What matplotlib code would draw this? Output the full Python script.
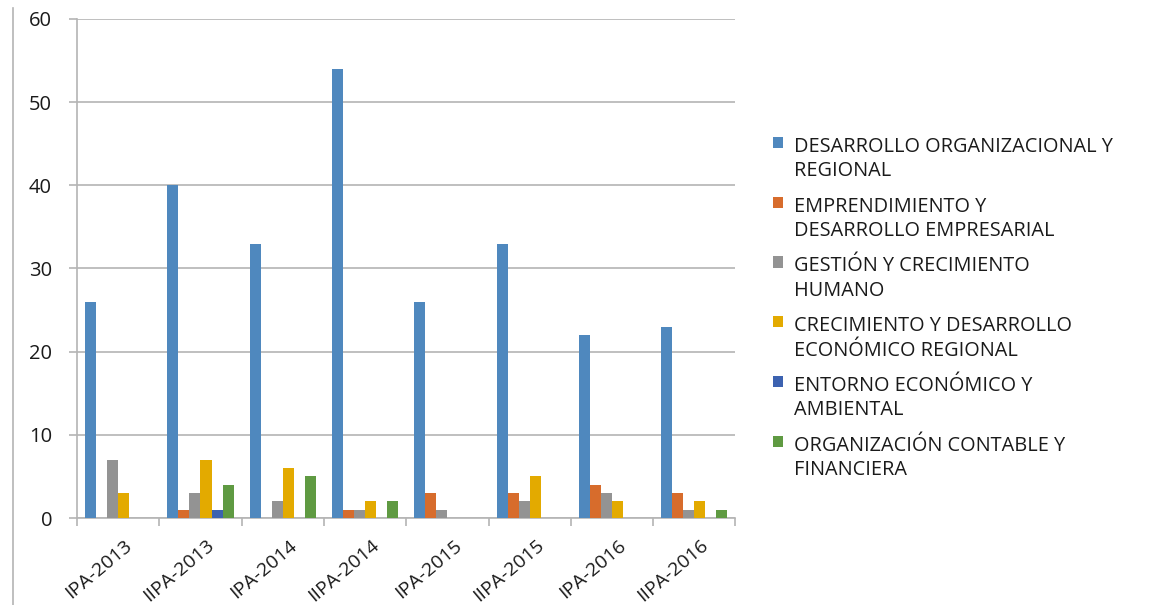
import matplotlib.pyplot as plt
import numpy as np
from matplotlib.lines import Line2D
from matplotlib.transforms import ScaledTranslation

plt.rcParams['font.family'] = ['Open Sans', 'DejaVu Sans']

# NOTE: data
periodos = ["IPA-2013", "IIPA-2013", "IPA-2014", "IIPA-2014",
            "IPA-2015", "IIPA-2015", "IPA-2016", "IIPA-2016"]
series = ["DESARROLLO ORGANIZACIONAL Y\nREGIONAL",
          "EMPRENDIMIENTO Y\nDESARROLLO EMPRESARIAL",
          "GESTIÓN Y CRECIMIENTO\nHUMANO",
          "CRECIMIENTO Y DESARROLLO\nECONÓMICO REGIONAL",
          "ENTORNO ECONÓMICO Y\nAMBIENTAL",
          "ORGANIZACIÓN CONTABLE Y\nFINANCIERA"]
desarrollo_org = [26, 40, 33, 54, 26, 33, 22, 23]
emprendimiento = [0, 1, 0, 1, 3, 3, 4, 3]
gestion = [7, 3, 2, 1, 1, 2, 3, 1]
crecimiento = [3, 7, 6, 2, 0, 5, 2, 2]
entorno = [0, 1, 0, 0, 0, 0, 0, 0]
organizacion = [0, 4, 5, 2, 0, 0, 0, 1]
valores = [desarrollo_org, emprendimiento, gestion, crecimiento, entorno, organizacion]
colores = ["#4f88be", "#d76c2c", "#939393", "#e3aa00", "#3c62b0", "#5f9a42"]

fig = plt.figure(figsize=(11.57, 6.05), dpi=100)
ax = fig.add_axes([0.0666, 0.1438, 0.569, 0.8248])

x = np.arange(len(periodos)) + 0.5
w = 0.134
for i, (vals, c, lab) in enumerate(zip(valores, colores, series)):
    ax.bar(x + (i - 2.5) * w, vals, width=w, color=c, label=lab, zorder=3)

ax.set_xlim(0, len(periodos))
ax.set_ylim(0, 60)
ax.set_yticks(range(0, 61, 10))
ax.yaxis.grid(True, color="#b4b4b4", linewidth=1.2, zorder=0)
ax.tick_params(axis='y', length=6, color="#b4b4b4", width=1.2, labelsize=14.5, pad=12,
               labelcolor="#1a1a1a")

ax.set_xticks(np.arange(len(periodos) + 1))
ax.set_xticklabels([])
ax.set_xticks(x, minor=True)
ax.set_xticklabels(periodos, minor=True, rotation=40, ha='right', va='top',
                   rotation_mode='anchor', fontsize=14, color="#1a1a1a")
ax.tick_params(axis='x', which='major', length=6, color="#b4b4b4", width=1.2)
ax.tick_params(axis='x', which='minor', length=0, pad=13)
desplaza = ScaledTranslation(6 / 100, 0, fig.dpi_scale_trans)
for lbl in ax.get_xticklabels(minor=True):
    lbl.set_transform(lbl.get_transform() + desplaza)

for s in ["top", "right"]:
    ax.spines[s].set_visible(False)
for s in ["left", "bottom"]:
    ax.spines[s].set_color("#b4b4b4")
    ax.spines[s].set_linewidth(1.2)

leg = ax.legend(loc='upper left', bbox_to_anchor=(1.045, 0.78), frameon=False,
                fontsize=14.3, handlelength=0.5, handleheight=0.5, handletextpad=0.55,
                labelspacing=0.77, borderaxespad=0)
for col in leg._legend_handle_box.get_children():
    for item in col.get_children():
        item.align = "top"
for t in leg.get_texts():
    t.set_color("#1a1a1a")
    t.set_linespacing(1.3)

# marco izquierdo
fig.add_artist(Line2D([0.0112, 0.0112], [0, 0.987], color="#b4b4b4", linewidth=1.2))

plt.savefig("out.png", dpi=100)
